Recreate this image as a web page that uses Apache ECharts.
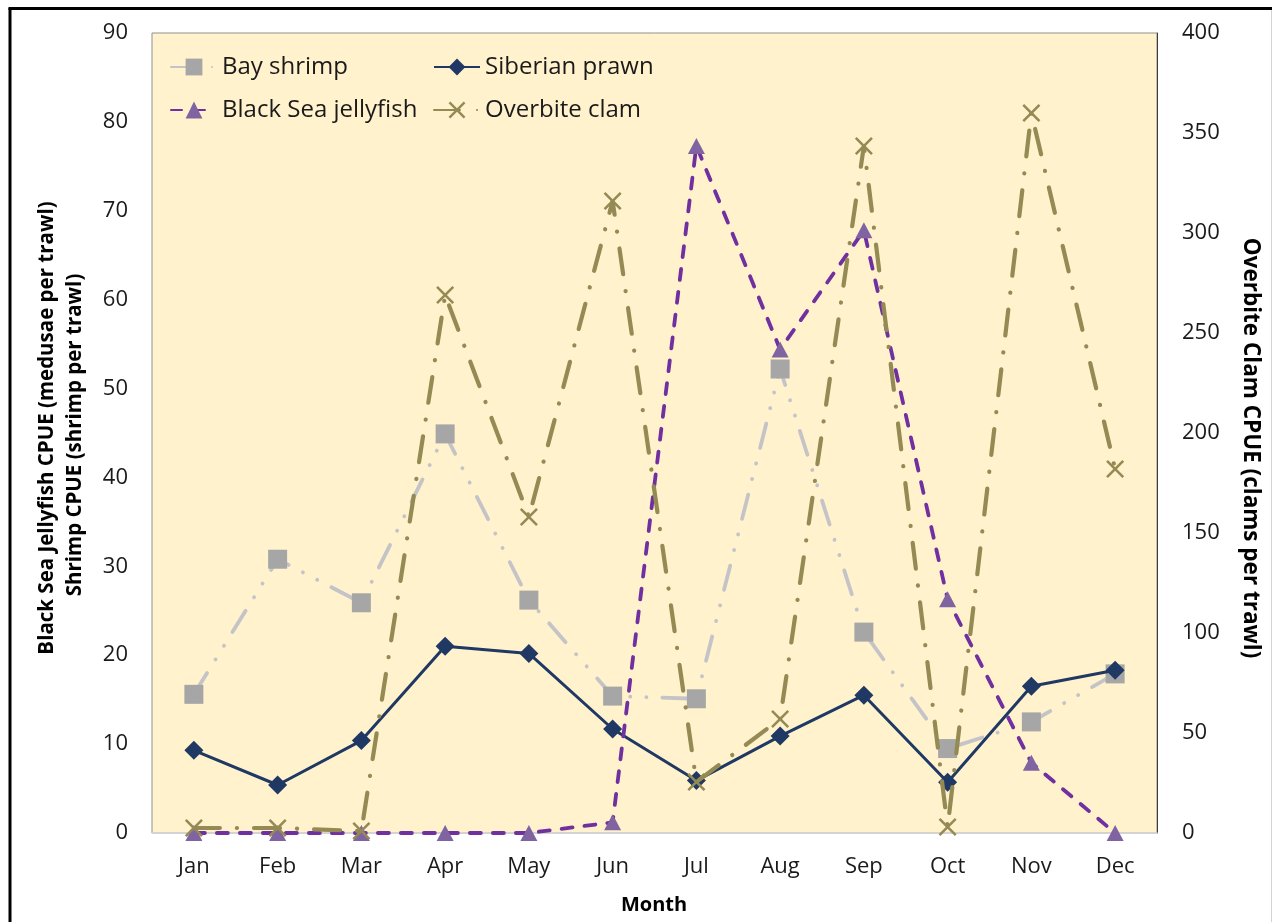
<!DOCTYPE html>
<html>
<head>
<meta charset="utf-8">
<script src="https://cdn.jsdelivr.net/npm/echarts@6/dist/echarts.min.js"></script>
<style>
  html, body { margin: 0; padding: 0; background: #ffffff; }
  #chart { width: 1273px; height: 922px; }
</style>
</head>
<body>
<div id="chart"></div>
<script>
// Monthly catch per unit effort
const months = ['Jan', 'Feb', 'Mar', 'Apr', 'May', 'Jun', 'Jul', 'Aug', 'Sep', 'Oct', 'Nov', 'Dec'];

const bayShrimp        = [15.6, 30.8, 25.9, 44.9, 26.2, 15.4, 15.1, 52.2, 22.6, 9.5, 12.5, 17.9];
const siberianPrawn    = [9.3, 5.4, 10.4, 21.0, 20.2, 11.7, 5.9, 10.9, 15.5, 5.7, 16.5, 18.3];
const blackSeaJelly    = [0, 0, 0, 0, 0, 1.2, 77.3, 54.4, 67.8, 26.3, 7.9, 0];
const overbiteClam     = [2.5, 2.5, 1, 269, 158, 316, 25.5, 57, 343.5, 3, 360, 182];

// Axis tick values
const leftTicks  = [0, 10, 20, 30, 40, 50, 60, 70, 80, 90];
const rightTicks = [0, 50, 100, 150, 200, 250, 300, 350, 400];

const FONT = '"Open Sans", "Liberation Sans", sans-serif';
const TXT = '#1a1a1a';

// Cross marker drawn as a filled outline
const crossPath = 'path://M0,1 L1,0 L5,4 L9,0 L10,1 L6,5 L10,9 L9,10 L5,6 L1,10 L0,9 L4,5 Z';

const chart = echarts.init(document.getElementById('chart'), null, { renderer: 'canvas' });

const legendText = { fontFamily: FONT, fontSize: 24, color: TXT, lineHeight: 30 };

const option = {
  animation: false,
  backgroundColor: '#ffffff',
  textStyle: { fontFamily: FONT },
  grid: {
    left: 152, right: 116, top: 33, bottom: 89,
    show: true,
    backgroundColor: '#FFF2CC',
    borderColor: '#8f8f8f',
    borderWidth: 1
  },
  legend: [
    {
      orient: 'vertical',
      left: 170, top: 52, padding: 0,
      itemWidth: 46, itemHeight: 21, itemGap: 13,
      textStyle: legendText,
      data: ['Bay shrimp', 'Black Sea jellyfish']
    },
    {
      orient: 'vertical',
      left: 433, top: 52, padding: 0,
      itemWidth: 46, itemHeight: 21, itemGap: 13,
      textStyle: legendText,
      data: ['Siberian prawn', 'Overbite clam']
    }
  ],
  xAxis: {
    type: 'category',
    data: months,
    boundaryGap: true,
    axisLine: { show: true, lineStyle: { color: '#D9D9D9', width: 1.5 } },
    axisTick: { show: false },
    axisLabel: { fontFamily: FONT, fontSize: 22, color: TXT, margin: 23 },
    splitLine: { show: false }
  },
  yAxis: [
    {
      type: 'value',
      min: leftTicks[0],
      max: leftTicks[leftTicks.length - 1],
      interval: leftTicks[1] - leftTicks[0],
      axisLine: { show: false },
      axisTick: { show: false },
      splitLine: { show: false },
      axisLabel: { fontFamily: FONT, fontSize: 22, color: TXT, margin: 24 }
    },
    {
      type: 'value',
      position: 'right',
      min: rightTicks[0],
      max: rightTicks[rightTicks.length - 1],
      interval: rightTicks[1] - rightTicks[0],
      axisLine: { show: true, lineStyle: { color: '#3c3c3c', width: 1 } },
      axisTick: { show: false },
      splitLine: { show: false },
      axisLabel: { fontFamily: FONT, fontSize: 22, color: TXT, margin: 25 }
    }
  ],
  series: [
    {
      name: 'Bay shrimp',
      type: 'line',
      yAxisIndex: 0,
      data: bayShrimp,
      symbol: 'rect',
      symbolSize: 19,
      itemStyle: { color: '#A6A6A6' },
      lineStyle: { color: '#C4C4C8', width: 3.8, type: [25, 16, 0.1, 16, 0.1, 16], cap: 'round' },
      z: 2
    },
    {
      name: 'Siberian prawn',
      type: 'line',
      yAxisIndex: 0,
      data: siberianPrawn,
      symbol: 'diamond',
      symbolSize: 19,
      itemStyle: { color: '#1F3864' },
      lineStyle: { color: '#1F3864', width: 3, type: 'solid' },
      z: 3
    },
    {
      name: 'Black Sea jellyfish',
      type: 'line',
      yAxisIndex: 0,
      data: blackSeaJelly,
      symbol: 'triangle',
      symbolSize: [17, 16],
      itemStyle: { color: '#8064A2' },
      lineStyle: { color: '#7030A0', width: 3.8, type: [11, 12], cap: 'round' },
      z: 4
    },
    {
      name: 'Overbite clam',
      type: 'line',
      yAxisIndex: 1,
      data: overbiteClam,
      symbol: crossPath,
      symbolSize: 18,
      itemStyle: { color: '#948A54' },
      lineStyle: { color: '#948A54', width: 4.2, type: [26, 17, 0.1, 17], cap: 'round' },
      z: 5
    }
  ],
  graphic: [
    // outer frame
    { type: 'line', shape: { x1: 10, y1: 8, x2: 10, y2: 922 }, style: { stroke: '#000', lineWidth: 3 }, silent: true },
    { type: 'line', shape: { x1: 8.5, y1: 8.5, x2: 1272, y2: 8.5 }, style: { stroke: '#000', lineWidth: 3 }, silent: true },
    { type: 'line', shape: { x1: 1271.5, y1: 10, x2: 1271.5, y2: 922 }, style: { stroke: '#d4d4d4', lineWidth: 1 }, silent: true },
    // axis titles
    {
      type: 'text', x: 47, y: 428, rotation: Math.PI / 2,
      style: {
        text: 'Black Sea Jellyfish CPUE (medusae per trawl)',
        fontFamily: FONT, fontSize: 20.5, fontWeight: 'bold', fill: '#000',
        align: 'center', verticalAlign: 'middle'
      }
    },
    {
      type: 'text', x: 75, y: 435, rotation: Math.PI / 2,
      style: {
        text: 'Shrimp CPUE (shrimp per trawl)',
        fontFamily: FONT, fontSize: 20.5, fontWeight: 'bold', fill: '#000',
        align: 'center', verticalAlign: 'middle'
      }
    },
    {
      type: 'text', x: 1250, y: 448, rotation: -Math.PI / 2,
      style: {
        text: 'Overbite Clam CPUE (clams per trawl)',
        fontFamily: FONT, fontSize: 22.5, fontWeight: 'bold', fill: '#000',
        align: 'center', verticalAlign: 'middle'
      }
    },
    {
      type: 'text', x: 654, y: 905,
      style: {
        text: 'Month',
        fontFamily: FONT, fontSize: 20, fontWeight: 'bold', fill: '#000',
        align: 'center', verticalAlign: 'middle'
      }
    }
  ]
};

chart.setOption(option);
</script>
</body>
</html>
